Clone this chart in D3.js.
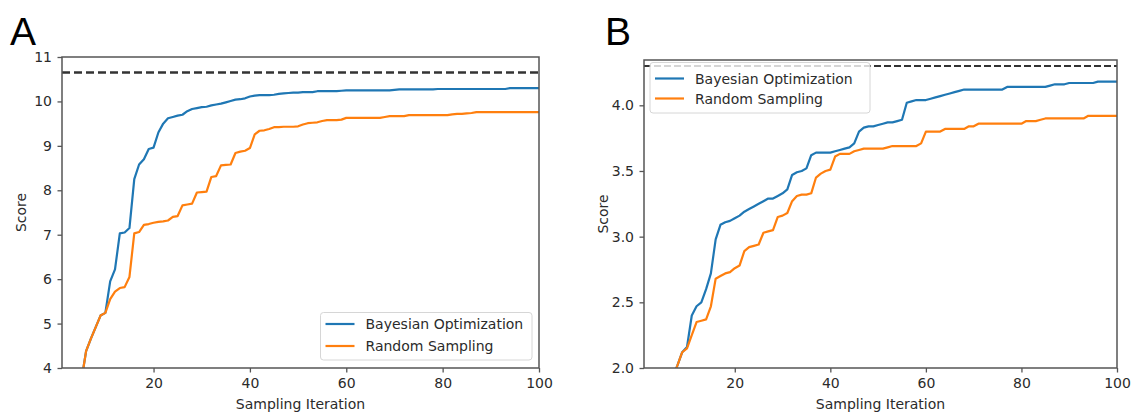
<!DOCTYPE html>
<html>
<head>
<meta charset="utf-8">
<script src="https://cdn.jsdelivr.net/npm/d3@7"></script>
<style>
  body { margin: 0; background: #fff; }
  svg { display: block; font-family: 'DejaVu Sans', sans-serif; }
</style>
</head>
<body>
<div id="app"></div>
<script>
// sampling iterations shared by both panels
const iterations = d3.range(1, 101);

// panel A, best score so far per iteration
const scoreA_bayes = [
  2.6, 3.0, 3.3, 3.55, 3.7, 4.38, 4.66, 4.92, 5.18, 5.24,
  5.95, 6.22, 7.03, 7.05, 7.15, 8.25, 8.58, 8.7, 8.93, 8.96,
  9.3, 9.5, 9.62, 9.65, 9.68, 9.7, 9.78, 9.83, 9.85, 9.87,
  9.88, 9.91, 9.93, 9.95, 9.98, 10.01, 10.04, 10.05, 10.07, 10.11,
  10.13, 10.14, 10.14, 10.14, 10.15, 10.17, 10.18, 10.19, 10.2, 10.2,
  10.21, 10.21, 10.21, 10.23, 10.23, 10.23, 10.23, 10.23, 10.24, 10.25,
  10.25, 10.25, 10.25, 10.25, 10.25, 10.25, 10.25, 10.25, 10.25, 10.26,
  10.27, 10.27, 10.27, 10.27, 10.27, 10.27, 10.27, 10.27, 10.28, 10.28,
  10.28, 10.28, 10.28, 10.28, 10.28, 10.28, 10.28, 10.28, 10.28, 10.28,
  10.28, 10.28, 10.28, 10.3, 10.3, 10.3, 10.3, 10.3, 10.3, 10.3
];
const scoreA_random = [
  2.6, 3.0, 3.3, 3.55, 3.7, 4.38, 4.66, 4.92, 5.18, 5.24,
  5.55, 5.72, 5.8, 5.82, 6.05, 7.03, 7.06, 7.22, 7.24, 7.27,
  7.29, 7.3, 7.32, 7.4, 7.42, 7.66, 7.68, 7.7, 7.95, 7.96,
  7.97, 8.3, 8.32, 8.56, 8.57, 8.58, 8.84, 8.87, 8.89, 8.95,
  9.26, 9.34, 9.35, 9.38, 9.42, 9.42, 9.43, 9.43, 9.43, 9.44,
  9.48, 9.51, 9.52, 9.53, 9.56, 9.58, 9.58, 9.58, 9.59, 9.63,
  9.63, 9.63, 9.63, 9.63, 9.63, 9.63, 9.63, 9.65, 9.67, 9.67,
  9.67, 9.67, 9.69, 9.69, 9.69, 9.69, 9.69, 9.69, 9.69, 9.69,
  9.69, 9.71, 9.72, 9.72, 9.73, 9.74, 9.76, 9.76, 9.76, 9.76,
  9.76, 9.76, 9.76, 9.76, 9.76, 9.76, 9.76, 9.76, 9.76, 9.76
];
const optimumA = 10.65;
const yTicksA = [4, 5, 6, 7, 8, 9, 10, 11];

// panel B
const scoreB_bayes = [
  1.2, 1.4, 1.55, 1.65, 1.75, 1.85, 1.93, 2.02, 2.12, 2.16,
  2.4, 2.47, 2.5, 2.6, 2.72, 2.98, 3.09, 3.11, 3.12, 3.14,
  3.16, 3.19, 3.21, 3.23, 3.25, 3.27, 3.29, 3.29, 3.31, 3.33,
  3.36, 3.47, 3.49, 3.5, 3.52, 3.62, 3.64, 3.64, 3.64, 3.64,
  3.65, 3.66, 3.67, 3.68, 3.71, 3.8, 3.83, 3.84, 3.84, 3.85,
  3.86, 3.87, 3.87, 3.88, 3.89, 4.02, 4.03, 4.04, 4.04, 4.04,
  4.05, 4.06, 4.07, 4.08, 4.09, 4.1, 4.11, 4.12, 4.12, 4.12,
  4.12, 4.12, 4.12, 4.12, 4.12, 4.12, 4.14, 4.14, 4.14, 4.14,
  4.14, 4.14, 4.14, 4.14, 4.14, 4.15, 4.16, 4.16, 4.16, 4.17,
  4.17, 4.17, 4.17, 4.17, 4.17, 4.18, 4.18, 4.18, 4.18, 4.18
];
const scoreB_random = [
  1.2, 1.4, 1.55, 1.65, 1.75, 1.85, 1.93, 2.02, 2.12, 2.15,
  2.25, 2.35, 2.36, 2.37, 2.47, 2.68, 2.7, 2.72, 2.73, 2.76,
  2.78, 2.89, 2.92, 2.93, 2.94, 3.03, 3.04, 3.05, 3.15, 3.16,
  3.18, 3.27, 3.31, 3.32, 3.32, 3.33, 3.45, 3.48, 3.5, 3.51,
  3.61, 3.63, 3.63, 3.63, 3.65, 3.66, 3.67, 3.67, 3.67, 3.67,
  3.67, 3.68, 3.69, 3.69, 3.69, 3.69, 3.69, 3.69, 3.71, 3.8,
  3.8, 3.8, 3.8, 3.82, 3.82, 3.82, 3.82, 3.82, 3.84, 3.84,
  3.86, 3.86, 3.86, 3.86, 3.86, 3.86, 3.86, 3.86, 3.86, 3.86,
  3.88, 3.88, 3.88, 3.89, 3.9, 3.9, 3.9, 3.9, 3.9, 3.9,
  3.9, 3.9, 3.9, 3.92, 3.92, 3.92, 3.92, 3.92, 3.92, 3.92
];
const optimumB = 4.3;
const yTicksB = [2.0, 2.5, 3.0, 3.5, 4.0];

const xTicks = [20, 40, 60, 80, 100];
const seriesNames = ['Bayesian Optimization', 'Random Sampling'];
const colors = ['#1f77b4', '#ff7f0e'];

const W = 1131, H = 414;
const ink = '#2b2b2b';

const svg = d3.select('#app')
  .append('svg')
    .attr('width', W)
    .attr('height', H);

function panel(cfg) {
  const x = d3.scaleLinear().domain([1, 100]).range([cfg.left, cfg.right]);
  const y = d3.scaleLinear().domain(cfg.yDomain).range([cfg.bottom, cfg.top]);
  const g = svg.append('g');

  g.append('clipPath').attr('id', 'clip' + cfg.name)
    .append('rect')
      .attr('x', cfg.left).attr('y', cfg.top)
      .attr('width', cfg.right - cfg.left).attr('height', cfg.bottom - cfg.top);

  const line = d3.line()
    .x((d, i) => x(iterations[i]))
    .y(d => y(d));

  // bayesian first, random drawn on top
  [cfg.bayes, cfg.random].forEach((s, k) => {
    g.append('path')
      .datum(s)
      .attr('clip-path', `url(#clip${cfg.name})`)
      .attr('d', line)
      .attr('fill', 'none')
      .attr('stroke', colors[k])
      .attr('stroke-width', 2.2)
      .attr('stroke-linejoin', 'round');
  });

  // optimum
  g.append('line')
    .attr('x1', cfg.left).attr('x2', cfg.right)
    .attr('y1', y(cfg.optimum)).attr('y2', y(cfg.optimum))
    .attr('stroke', '#333')
    .attr('stroke-width', cfg.dashW)
    .attr('stroke-dasharray', cfg.dash);

  // axes
  const xAxis = g.append('g')
    .attr('transform', `translate(0,${cfg.bottom})`)
    .call(d3.axisBottom(x).tickValues(xTicks).tickSize(4.5).tickPadding(6));
  const yAxis = g.append('g')
    .attr('transform', `translate(${cfg.left},0)`)
    .call(d3.axisLeft(y).tickValues(cfg.yTicks).tickFormat(cfg.yFormat).tickSize(4.5).tickPadding(5.5));
  [xAxis, yAxis].forEach(a => {
    a.select('.domain').remove();
    a.selectAll('line').attr('stroke', '#555').attr('stroke-width', 1.3);
    a.selectAll('text')
      .attr('fill', ink)
      .style('font-size', '14px')
      .style('font-family', "'DejaVu Sans', sans-serif");
  });

  // frame
  g.append('rect')
    .attr('x', cfg.left).attr('y', cfg.top)
    .attr('width', cfg.right - cfg.left).attr('height', cfg.bottom - cfg.top)
    .attr('fill', 'none')
    .attr('stroke', '#555')
    .attr('stroke-width', 1.5);

  // axis titles
  g.append('text')
    .attr('x', (cfg.left + cfg.right) / 2)
    .attr('y', 409)
    .attr('text-anchor', 'middle')
    .attr('fill', ink)
    .style('font-size', '14px')
    .text('Sampling Iteration');
  g.append('text')
    .attr('transform', `translate(${cfg.left - 36},${(cfg.top + cfg.bottom) / 2}) rotate(-90)`)
    .attr('text-anchor', 'middle')
    .attr('fill', ink)
    .style('font-size', '14px')
    .text('Score');

  // panel letter
  g.append('text')
    .attr('x', cfg.letterX)
    .attr('y', 45)
    .style('font-family', "'Liberation Sans', Arial, sans-serif")
    .style('font-size', '39px')
    .attr('fill', '#000')
    .text(cfg.name);

  // legend
  const lg = cfg.legend;
  g.append('rect')
    .attr('x', lg.x).attr('y', lg.y)
    .attr('width', lg.w).attr('height', lg.h)
    .attr('rx', 3)
    .attr('fill', 'rgba(255,255,255,0.8)')
    .attr('stroke', '#d6d6d6')
    .attr('stroke-width', 1);
  seriesNames.forEach((name, k) => {
    const ly = lg.y + lg.first + k * lg.step;
    g.append('line')
      .attr('x1', lg.x + 5).attr('x2', lg.x + 34)
      .attr('y1', ly).attr('y2', ly)
      .attr('stroke', colors[k])
      .attr('stroke-width', 2.2);
    g.append('text')
      .attr('x', lg.x + 45)
      .attr('y', ly)
      .attr('dy', '0.36em')
      .attr('fill', ink)
      .style('font-size', '14px')
      .text(name);
  });
}

panel({
  name: 'A', left: 62, right: 539, top: 57, bottom: 368,
  yDomain: [4, 11], yTicks: yTicksA, yFormat: d3.format('d'),
  bayes: scoreA_bayes, random: scoreA_random, optimum: optimumA,
  dash: '8,4', dashW: 2.4, letterX: 10,
  legend: { x: 320.5, y: 312.5, w: 211.5, h: 47.5, first: 11.5, step: 22 }
});

panel({
  name: 'B', left: 644, right: 1117, top: 60, bottom: 368,
  yDomain: [2, 4.345], yTicks: yTicksB, yFormat: d3.format('.1f'),
  bayes: scoreB_bayes, random: scoreB_random, optimum: optimumB,
  dash: '7,3', dashW: 2, letterX: 605,
  legend: { x: 650, y: 62.5, w: 220, h: 50.5, first: 16, step: 20 }
});
</script>
</body>
</html>
